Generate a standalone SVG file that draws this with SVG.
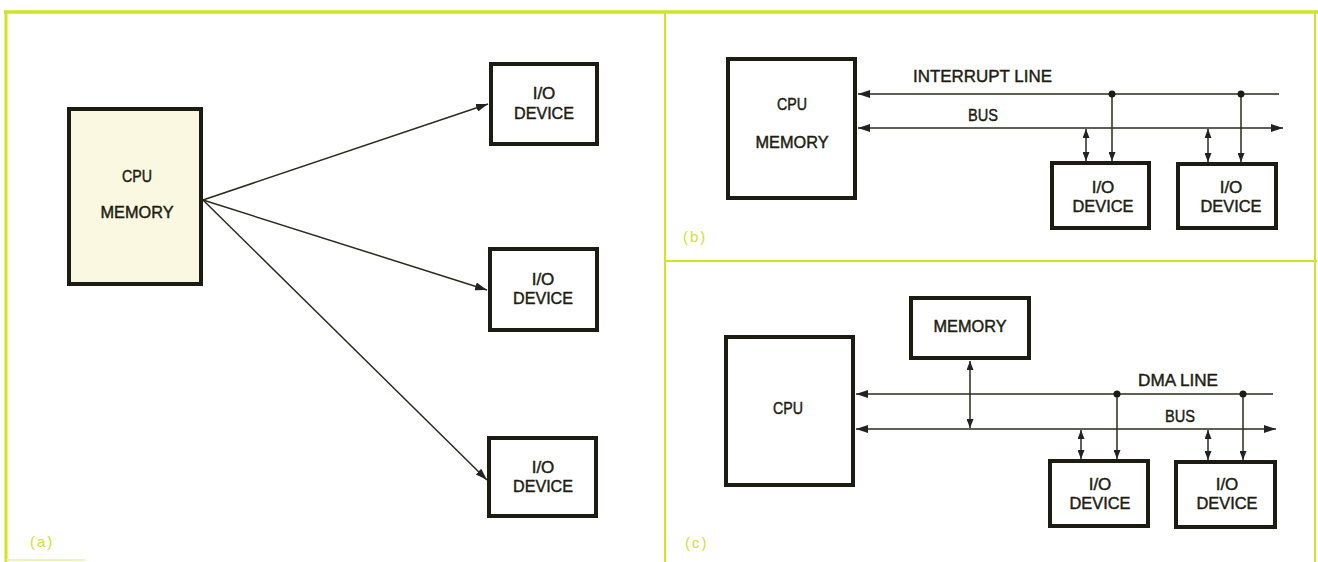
<svg xmlns="http://www.w3.org/2000/svg" width="1318" height="562" viewBox="0 0 1318 562">
<style>
.g{stroke:#cfe422;fill:none}
.box{fill:#fff;stroke:#1c1c12;stroke-width:4}
.ln{stroke:#2a2a1c;stroke-width:1.5;fill:none}
.t{font-family:"Liberation Sans",Arial,sans-serif;font-size:17px;fill:#1c1c12;stroke:#1c1c12;stroke-width:0.45;text-anchor:middle}
.tl{font-family:"Liberation Sans",Arial,sans-serif;font-size:16px;fill:#1c1c12;stroke:#1c1c12;stroke-width:0.4}
.lab{font-family:"Liberation Sans",Arial,sans-serif;font-size:15px;fill:#d2de30;letter-spacing:2px}
</style>
<defs>
<marker id="ah" viewBox="0 0 12 8" refX="12" refY="4" markerWidth="12" markerHeight="8" markerUnits="userSpaceOnUse" orient="auto-start-reverse"><path d="M0,0 L12,4 L0,8 z" fill="#222"/></marker>
<marker id="as" viewBox="0 0 9 7" refX="9" refY="3.5" markerWidth="9" markerHeight="7" markerUnits="userSpaceOnUse" orient="auto-start-reverse"><path d="M0,0 L9,3.5 L0,7 z" fill="#222"/></marker>
<marker id="dot" viewBox="0 0 8 8" refX="4" refY="4" markerWidth="8" markerHeight="8" markerUnits="userSpaceOnUse"><circle cx="4" cy="4" r="3.5" fill="#1c1c12"/></marker>
</defs>
<rect width="1318" height="562" fill="#fff"/>
<g id="frames">
<line class="g" x1="4" y1="12" x2="1318" y2="12" stroke-width="3.5"/>
<line class="g" x1="6" y1="12" x2="6" y2="562" stroke-width="3"/>
<line class="g" x1="665" y1="12" x2="665" y2="562" stroke-width="2"/>
<line class="g" x1="665" y1="261" x2="1317" y2="261" stroke-width="2"/>
<line class="g" x1="1315" y1="12" x2="1315" y2="562" stroke-width="2"/>
<line x1="6" y1="560" x2="85" y2="560" stroke="#e6eea8" stroke-width="1.5"/>
</g>
<g id="connectors">
<line class="ln" x1="203" y1="200" x2="488" y2="104" marker-end="url(#ah)"/>
<line class="ln" x1="203" y1="200" x2="487" y2="290" marker-end="url(#ah)"/>
<line class="ln" x1="203" y1="200" x2="487" y2="480" marker-end="url(#ah)"/>
<line class="ln" x1="1279" y1="94" x2="858" y2="94" marker-end="url(#ah)"/>
<line class="ln" x1="858" y1="128" x2="1283" y2="128" marker-start="url(#ah)" marker-end="url(#ah)"/>
<line class="ln" x1="1112" y1="94" x2="1112" y2="161" marker-start="url(#dot)" marker-end="url(#as)"/>
<line class="ln" x1="1241" y1="94" x2="1241" y2="162" marker-start="url(#dot)" marker-end="url(#as)"/>
<line class="ln" x1="1086" y1="129" x2="1086" y2="161" marker-start="url(#as)" marker-end="url(#as)"/>
<line class="ln" x1="1208" y1="129" x2="1208" y2="162" marker-start="url(#as)" marker-end="url(#as)"/>
<line class="ln" x1="1273" y1="394" x2="856" y2="394" marker-end="url(#ah)"/>
<line class="ln" x1="856" y1="429" x2="1276" y2="429" marker-start="url(#ah)" marker-end="url(#ah)"/>
<line class="ln" x1="970" y1="361" x2="970" y2="428" marker-start="url(#as)" marker-end="url(#as)"/>
<line class="ln" x1="1117" y1="394" x2="1117" y2="459" marker-start="url(#dot)" marker-end="url(#as)"/>
<line class="ln" x1="1243" y1="394" x2="1243" y2="460" marker-start="url(#dot)" marker-end="url(#as)"/>
<line class="ln" x1="1081" y1="430" x2="1081" y2="459" marker-start="url(#as)" marker-end="url(#as)"/>
<line class="ln" x1="1208" y1="430" x2="1208" y2="460" marker-start="url(#as)" marker-end="url(#as)"/>
</g>
<g id="a-cpu-memory">
<rect class="box" x="69" y="109" width="132" height="175" style="fill:#fbf8e2"/>
<text class="t" x="137" y="182" textLength="30" lengthAdjust="spacingAndGlyphs">CPU</text>
<text class="t" x="137" y="218" textLength="73" lengthAdjust="spacingAndGlyphs">MEMORY</text>
</g>
<g id="a-io1">
<rect class="box" x="491" y="64" width="106" height="80"/>
<text class="t" x="544" y="99">I/O</text>
<text class="t" x="544" y="119" textLength="60" lengthAdjust="spacingAndGlyphs">DEVICE</text>
</g>
<g id="a-io2">
<rect class="box" x="490" y="249" width="107" height="81"/>
<text class="t" x="543" y="285">I/O</text>
<text class="t" x="543" y="304" textLength="60" lengthAdjust="spacingAndGlyphs">DEVICE</text>
</g>
<g id="a-io3">
<rect class="box" x="489" y="438" width="107" height="78"/>
<text class="t" x="543" y="473">I/O</text>
<text class="t" x="543" y="492" textLength="60" lengthAdjust="spacingAndGlyphs">DEVICE</text>
</g>
<text class="lab" x="30" y="547">(a)</text>
<g id="b-cpu-memory">
<rect class="box" x="728" y="59" width="127" height="139"/>
<text class="t" x="792" y="110" textLength="30" lengthAdjust="spacingAndGlyphs">CPU</text>
<text class="t" x="792" y="148" textLength="73" lengthAdjust="spacingAndGlyphs">MEMORY</text>
</g>
<text class="tl" x="913" y="82" textLength="139" lengthAdjust="spacingAndGlyphs">INTERRUPT LINE</text>
<text class="tl" x="968" y="121" textLength="30" lengthAdjust="spacingAndGlyphs">BUS</text>
<g id="b-io1">
<rect class="box" x="1052" y="163" width="97" height="65"/>
<text class="t" x="1103" y="193">I/O</text>
<text class="t" x="1103" y="212" textLength="61" lengthAdjust="spacingAndGlyphs">DEVICE</text>
</g>
<g id="b-io2">
<rect class="box" x="1178" y="164" width="98" height="64"/>
<text class="t" x="1231" y="193">I/O</text>
<text class="t" x="1231" y="212" textLength="61" lengthAdjust="spacingAndGlyphs">DEVICE</text>
</g>
<text class="lab" x="683" y="242">(b)</text>
<g id="c-cpu">
<rect class="box" x="726" y="337" width="127" height="148"/>
<text class="t" x="788" y="414" textLength="30" lengthAdjust="spacingAndGlyphs">CPU</text>
</g>
<g id="c-memory">
<rect class="box" x="911" y="298" width="118" height="60"/>
<text class="t" x="970" y="332" textLength="73" lengthAdjust="spacingAndGlyphs">MEMORY</text>
</g>
<text class="tl" x="1138" y="386" textLength="80" lengthAdjust="spacingAndGlyphs">DMA LINE</text>
<text class="tl" x="1165" y="422" textLength="30" lengthAdjust="spacingAndGlyphs">BUS</text>
<g id="c-io1">
<rect class="box" x="1050" y="461" width="98" height="65"/>
<text class="t" x="1100" y="490">I/O</text>
<text class="t" x="1100" y="509" textLength="61" lengthAdjust="spacingAndGlyphs">DEVICE</text>
</g>
<g id="c-io2">
<rect class="box" x="1176" y="462" width="99" height="65"/>
<text class="t" x="1227" y="490">I/O</text>
<text class="t" x="1227" y="509" textLength="61" lengthAdjust="spacingAndGlyphs">DEVICE</text>
</g>
<text class="lab" x="685" y="548">(c)</text>
</svg>
